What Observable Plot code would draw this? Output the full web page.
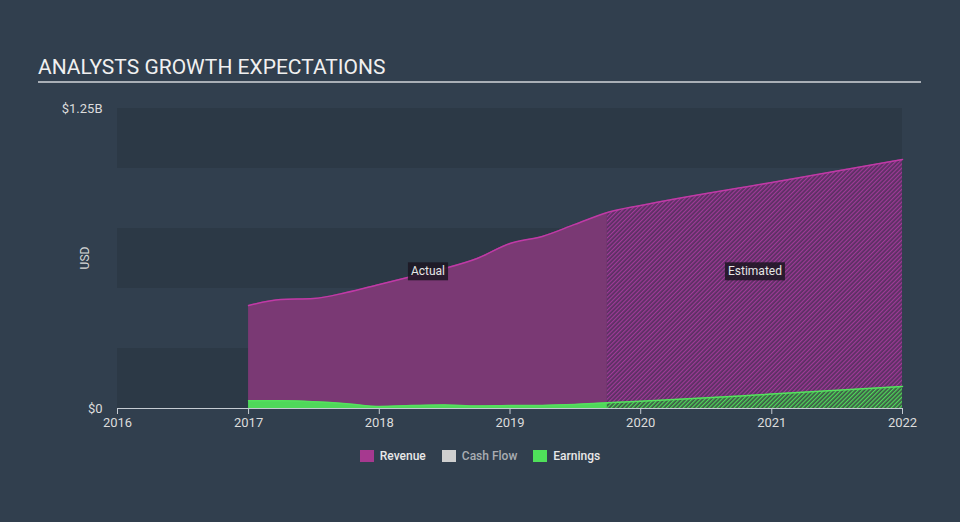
<!DOCTYPE html>
<html>
<head>
<meta charset="utf-8">
<script src="https://cdn.jsdelivr.net/npm/d3@7"></script>
<script src="https://cdn.jsdelivr.net/npm/@observablehq/plot@0.6"></script>
<style>
  html, body { margin: 0; padding: 0; background: #313f4e; }
  #wrap { position: relative; width: 960px; height: 522px; background: #313f4e; font-family: Roboto, "Open Sans", sans-serif; overflow: hidden; }
  #title { position: absolute; left: 38px; top: 55px; font-size: 21px; color: #f0f0f0; white-space: nowrap; }
  #rule { position: absolute; left: 38px; top: 81px; width: 883px; height: 2px; background: #a9afb6; }
  #usd { position: absolute; left: 85px; top: 258px; transform: translate(-50%, -50%) rotate(-90deg); font-size: 12px; color: #d8d8d8; }
  #chart { position: absolute; left: 0; top: 0; }
  #legend { position: absolute; left: 0; top: 449px; width: 960px; display: flex; justify-content: center; align-items: center; font-size: 12px; font-weight: 500; }
  .item { display: flex; align-items: center; margin: 0 8px; }
  .sw { width: 14px; height: 12px; margin-right: 6px; }
</style>
</head>
<body>
<div id="wrap">
  <div id="title">ANALYSTS GROWTH EXPECTATIONS</div>
  <div id="rule"></div>
  <div id="chart"></div>
  <div id="usd">USD</div>
  <div id="legend"></div>
</div>
<script>
// ---- data ----
const revenueActualDates = ["2017-01-01","2017-04-01","2017-07-01","2017-10-01","2018-01-01","2018-04-01","2018-07-01","2018-10-01","2019-01-01","2019-04-01","2019-07-01","2019-09-30"];
const revenueActualValues = [0.429e9,0.454e9,0.458e9,0.483e9,0.517e9,0.550e9,0.583e9,0.625e9,0.6875e9,0.717e9,0.767e9,0.817e9];
const revenueEstDates = ["2019-09-30","2020-01-01","2021-01-01","2022-01-01"];
const revenueEstValues = [0.817e9,0.846e9,0.942e9,1.0375e9];

const earningsActualDates = revenueActualDates;
const earningsActualValues = [0.032e9,0.032e9,0.028e9,0.020e9,0.008e9,0.012e9,0.015e9,0.010e9,0.012e9,0.013e9,0.017e9,0.024e9];
const earningsEstDates = revenueEstDates;
const earningsEstValues = [0.024e9,0.030e9,0.060e9,0.092e9];

const xDomain = ["2016-01-01","2022-01-01"];
const yDomain = [0, 1.25e9];
const yTicks = [0, 1.25e9];
const yTickLabels = ["$0", "$1.25B"];
const bands = [[0, 0.25e9], [0.5e9, 0.75e9], [1.0e9, 1.25e9]];
const phaseLabels = ["Actual", "Estimated"];
const phaseDates = ["2018-05-17", "2020-11-15"];
const phaseValue = 0.571e9;

const legendNames = ["Revenue", "Cash Flow", "Earnings"];
const legendColors = ["#a6398f", "#cfcfcf", "#4fe05a"];
const legendTextColors = ["#e8e8e8", "#a9adb2", "#e8e8e8"];

// ---- build tables ----
const toRows = (dates, values) => dates.map((d, i) => ({date: new Date(d), value: values[i]}));
const revA = toRows(revenueActualDates, revenueActualValues);
const revE = toRows(revenueEstDates, revenueEstValues);
const earnA = toRows(earningsActualDates, earningsActualValues);
const earnE = toRows(earningsEstDates, earningsEstValues);
const revAll = revA.concat(revE.slice(1));
const earnAll = earnA.concat(earnE.slice(1));
const phases = phaseLabels.map((l, i) => ({label: l, date: new Date(phaseDates[i]), value: phaseValue}));

const curve = "monotone-x";
const chart = Plot.plot({
  width: 960,
  height: 522,
  marginLeft: 117,
  marginRight: 58,
  marginTop: 108,
  marginBottom: 114,
  style: {background: "transparent", color: "#dcdcdc", fontSize: "13px", fontFamily: "Roboto, sans-serif"},
  x: {type: "utc", domain: xDomain.map(d => new Date(d))},
  y: {domain: yDomain},
  marks: [
    Plot.rect(bands, {y1: d => d[0], y2: d => d[1], fill: "#2c3946"}),
    Plot.areaY(revA, {x: "date", y: "value", fill: "#7a3974", curve}),
    Plot.areaY(revE, {x: "date", y: "value", fill: "url(#hatchRev)", curve}),
    Plot.lineY(revAll, {x: "date", y: "value", stroke: "#c03aa6", strokeWidth: 1.5, curve}),
    Plot.areaY(earnA, {x: "date", y: "value", fill: "#4fd85a", curve}),
    Plot.areaY(earnE, {x: "date", y: "value", fill: "url(#hatchEarn)", curve}),
    Plot.lineY(earnAll, {x: "date", y: "value", stroke: "#55e15e", strokeWidth: 1.5, curve}),
    Plot.ruleY([0], {stroke: "#c5cbd2", strokeWidth: 1.2}),
    Plot.axisX({ticks: d3.utcYear.every(1), tickFormat: d3.utcFormat("%Y"), tickSize: 6, tickPadding: 3, stroke: "#c5cbd2", fill: "#dcdcdc", fontSize: 13, label: null}),
    Plot.axisY({ticks: yTicks, tickFormat: d => yTickLabels[yTicks.indexOf(d)], tickSize: 0, tickPadding: 15, fill: "#dcdcdc", fontSize: 13, label: null}),
    Plot.text(phases, {x: "date", y: "value", text: "label", fill: "#e6e6e6", fontSize: 12})
  ]
});
document.getElementById("chart").appendChild(chart);

// hatch patterns
const ns = "http://www.w3.org/2000/svg";
const defs = document.createElementNS(ns, "defs");
defs.innerHTML =
  '<pattern id="hatchRev" patternUnits="userSpaceOnUse" width="3" height="3" patternTransform="rotate(45)">' +
  '<rect width="3" height="3" fill="#5a3062"/><rect x="0" y="0" width="1.2" height="3" fill="#a03a98"/></pattern>' +
  '<pattern id="hatchEarn" patternUnits="userSpaceOnUse" width="3" height="3" patternTransform="rotate(45)">' +
  '<rect width="3" height="3" fill="#3d5646"/><rect x="0" y="0" width="1.3" height="3" fill="#4fd85a"/></pattern>';
chart.insertBefore(defs, chart.firstChild);

// label boxes
chart.querySelectorAll('g[aria-label="text"] text').forEach(t => {
  const b = t.getBBox();
  const r = document.createElementNS(ns, "rect");
  r.setAttribute("x", b.x - 3);
  r.setAttribute("y", b.y - 2);
  r.setAttribute("width", b.width + 6);
  r.setAttribute("height", b.height + 4);
  r.setAttribute("fill", "rgba(28,22,34,0.85)");
  const tr = t.getAttribute("transform");
  if (tr) r.setAttribute("transform", tr);
  t.parentNode.insertBefore(r, t);
});

// legend
const legend = document.getElementById("legend");
legendNames.forEach((n, i) => {
  const it = document.createElement("div");
  it.className = "item";
  it.innerHTML = `<div class="sw" style="background:${legendColors[i]}"></div><span style="color:${legendTextColors[i]}">${n}</span>`;
  legend.appendChild(it);
});
</script>
</body>
</html>
